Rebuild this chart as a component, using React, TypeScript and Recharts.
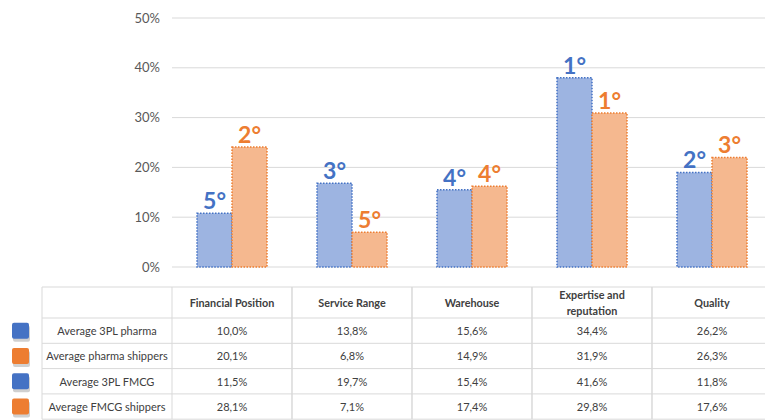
import React from 'react';
import { BarChart, Bar, XAxis, YAxis, CartesianGrid, LabelList } from 'recharts';

const categories = ['Financial Position', 'Service Range', 'Warehouse', 'Expertise and reputation', 'Quality'];
const headerLines = [['Financial Position'], ['Service Range'], ['Warehouse'], ['Expertise and', 'reputation'], ['Quality']];
const bar3PL = [10.8, 16.8, 15.5, 38.0, 19.0];
const barShippers = [24.1, 7.0, 16.2, 30.9, 22.0];
const rank3PL = ['5°', '3°', '4°', '1°', '2°'];
const rankShippers = ['2°', '5°', '4°', '1°', '3°'];
const yTicks = [0, 10, 20, 30, 40, 50];

const rowLabels = ['Average 3PL pharma', 'Average pharma shippers', 'Average 3PL FMCG', 'Average FMCG shippers'];
const rowColors = ['#4472C4', '#ED7D31', '#4472C4', '#ED7D31'];
const avg3PLPharma = [10.0, 13.8, 15.6, 34.4, 26.2];
const avgPharmaShippers = [20.1, 6.8, 14.9, 31.9, 26.3];
const avg3PLFMCG = [11.5, 19.7, 15.4, 41.6, 11.8];
const avgFMCGShippers = [28.1, 7.1, 17.4, 29.8, 17.6];
const tableRows = [avg3PLPharma, avgPharmaShippers, avg3PLFMCG, avgFMCGShippers];

const chartData = categories.map((c, i) => ({
  category: c,
  pl: bar3PL[i],
  sh: barShippers[i],
  plRank: rank3PL[i],
  shRank: rankShippers[i],
}));

const FONT = 'Lato, "Open Sans", sans-serif';
const LINE = '#d9d9d9';
const TEXT = '#404040';
const BAND = 120;
const HEADER_H = 31;
const ROW_H = 25.3;
const TABLE_GAP = 20;
const LABEL_COL_LEFT = 42;

const fmt = (v: number) => v.toFixed(1).replace('.', ',') + '%';

const TableTick = (props: any) => {
  const { x, y, payload } = props;
  const idx = payload?.index ?? props.index ?? 0;
  const top = y + TABLE_GAP;
  const left = x - BAND / 2;
  const right = x + BAND / 2;
  const bottom = top + HEADER_H + ROW_H * tableRows.length;
  const hLines = [top, top + HEADER_H, ...tableRows.map((_, r) => top + HEADER_H + ROW_H * (r + 1))];
  const lines = headerLines[idx] || [];
  const els: any[] = [];

  if (idx === 0) {
    const lcx = (LABEL_COL_LEFT + left) / 2;
    hLines.forEach((hy, k) => (
      els.push(<line key={'lh' + k} x1={LABEL_COL_LEFT} x2={left} y1={hy} y2={hy} stroke={LINE} strokeWidth={1} />)
    ));
    els.push(<line key="lv" x1={LABEL_COL_LEFT} x2={LABEL_COL_LEFT} y1={top} y2={bottom} stroke={LINE} strokeWidth={1} />);
    rowLabels.forEach((lab, r) => {
      const cy = top + HEADER_H + ROW_H * r + ROW_H / 2;
      els.push(
        <text key={'rl' + r} x={lcx} y={cy} textAnchor="middle" dominantBaseline="central" fontFamily={FONT} fontSize={11} fill={TEXT}>
          {lab}
        </text>
      );
      els.push(<rect key={'ks' + r} x={13} y={cy - 5} width={17} height={16} rx={2} fill="#8a8a8a" opacity={0.4} />);
      els.push(<rect key={'k' + r} x={12} y={cy - 8} width={17} height={16} rx={2} fill={rowColors[r]} />);
    });
  }

  hLines.forEach((hy, k) => (
    els.push(<line key={'h' + k} x1={left} x2={right} y1={hy} y2={hy} stroke={LINE} strokeWidth={1} />)
  ));
  els.push(<line key="vl" x1={left} x2={left} y1={top} y2={bottom} stroke={LINE} strokeWidth={1} />);
  els.push(<line key="vr" x1={right} x2={right} y1={top} y2={bottom} stroke={LINE} strokeWidth={1} />);

  const hc = top + HEADER_H / 2;
  lines.forEach((ln, k) => {
    const ly = hc + (k - (lines.length - 1) / 2) * 16;
    els.push(
      <text key={'hd' + k} x={x} y={ly} textAnchor="middle" dominantBaseline="central" fontFamily={FONT} fontSize={10.8} fontWeight={700} fill={TEXT}>
        {ln}
      </text>
    );
  });

  tableRows.forEach((row, r) => {
    const cy = top + HEADER_H + ROW_H * r + ROW_H / 2;
    els.push(
      <text key={'v' + r} x={x} y={cy} textAnchor="middle" dominantBaseline="central" fontFamily={FONT} fontSize={11} fill={TEXT}>
        {fmt(row[idx])}
      </text>
    );
  });

  return <g>{els}</g>;
};

export default function App() {
  return (
    <div style={{ position: 'absolute', top: 0, left: 0, width: 765, height: 420, overflow: 'hidden', background: '#fff' }}>
      <BarChart
        width={772}
        height={420}
        data={chartData}
        margin={{ top: 18, right: 0, bottom: 0, left: 0 }}
        barCategoryGap={25}
        barGap={0}
      >
        <CartesianGrid vertical={false} stroke={LINE} strokeWidth={1} />
        <YAxis
          width={172}
          domain={[0, 50]}
          ticks={yTicks}
          tickFormatter={(v: number) => `${v}%`}
          axisLine={false}
          tickLine={false}
          tickMargin={6}
          tick={{ fill: '#595959', fontSize: 13, fontFamily: FONT }}
        />
        <XAxis
          dataKey="category"
          height={153}
          axisLine={false}
          tickLine={false}
          tickSize={0}
          tickMargin={0}
          interval={0}
          tick={<TableTick />}
        />
        <Bar dataKey="pl" fill="#9DB4E1" stroke="#4472C4" strokeWidth={1.5} strokeDasharray="1.5 1.5" isAnimationActive={false}>
          <LabelList dataKey="plRank" position="top" offset={4} fill="#4472C4" fontSize={23} fontWeight={700} fontFamily={FONT} />
        </Bar>
        <Bar dataKey="sh" fill="#F5B88F" stroke="#ED7D31" strokeWidth={1.5} strokeDasharray="1.5 1.5" isAnimationActive={false}>
          <LabelList dataKey="shRank" position="top" offset={4} fill="#ED7D31" fontSize={23} fontWeight={700} fontFamily={FONT} />
        </Bar>
      </BarChart>
    </div>
  );
}
